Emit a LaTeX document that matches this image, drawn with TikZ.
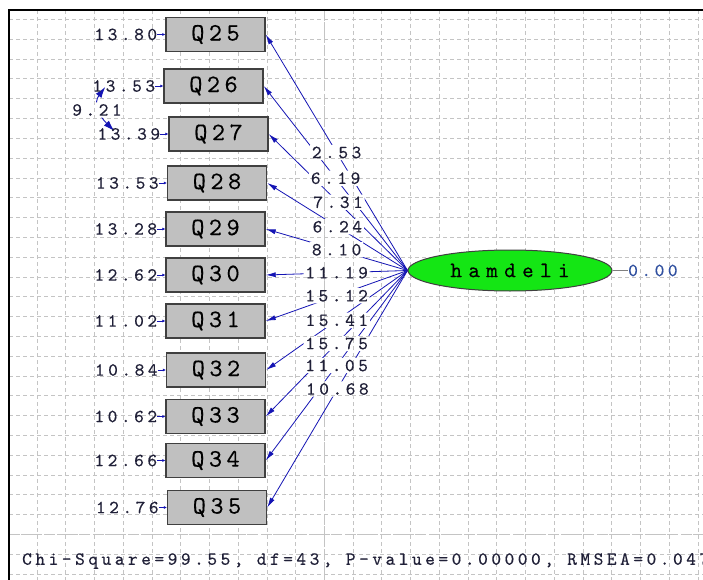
\documentclass[tikz,border=0pt]{standalone}
\usepackage{fontspec}
\usetikzlibrary{arrows.meta,shapes.geometric,calc}
\newfontfamily\numfont[LetterSpace=19,FakeBold=0.4]{lmmono10-regular.otf}
\newfontfamily\boxfont[LetterSpace=18,FakeBold=0.3]{lmmono10-regular.otf}
\newfontfamily\lvfont[LetterSpace=29,FakeBold=0.3]{lmmono10-regular.otf}
\definecolor{pathblue}{HTML}{1414B4}
\definecolor{boxgray}{HTML}{C0C0C0}
\definecolor{edgegray}{HTML}{404040}
\definecolor{gridgray}{HTML}{C4C4C4}
\definecolor{numcol}{HTML}{202038}
\definecolor{zerocol}{HTML}{3050A0}
\definecolor{lvgreen}{HTML}{14E614}
\pgfdeclarelayer{back}
\pgfdeclarelayer{patch}
\pgfsetlayers{back,patch,main}
\newcommand\mygrid{%
  \foreach \k in {0,...,28} \draw[gridline] (9,19.5+19.8*\k) -- (703,19.5+19.8*\k);
  \foreach \k in {0,...,23} \draw[gridline] (37+28.74*\k,10) -- (37+28.74*\k,580);
  \draw[majorgrid] (324.4,10) -- (324.4,580);
  \draw[majorgrid] (9,534.5) -- (703,534.5);}
\begin{document}
\begin{tikzpicture}[x=1pt,y=-1pt,
  obs/.style={draw=edgegray,fill=boxgray,line width=1.4pt,minimum width=99pt,minimum height=34pt,inner sep=0pt,font=\boxfont\fontsize{25}{25}\selectfont},
  lat/.style={ellipse,draw=edgegray,fill=lvgreen,line width=1pt,minimum width=204pt,minimum height=41pt,inner sep=0pt,font=\lvfont\fontsize{22}{22}\selectfont},
  numtext/.style={inner sep=0pt,text=numcol,font=\numfont\fontsize{18.5}{18.5}\selectfont},
  plab/.style={numtext,inner sep=1.5pt},
  loading/.style={draw=pathblue,line width=0.8pt,-{Latex[length=10pt,width=5pt]}},
  errarrow/.style={draw=pathblue,line width=0.8pt,-{Latex[length=3pt,width=3pt]}},
  covarrow/.style={draw=pathblue,line width=0.9pt,{Latex[length=11pt,width=7pt]}-{Latex[length=11pt,width=7pt]}},
  gridline/.style={gridgray,line width=0.8pt,dash pattern=on 4pt off 3pt},
  majorgrid/.style={gridgray,line width=1.2pt,dash pattern=on 9pt off 3pt},
]
\useasboundingbox (0,0) rectangle (703,580);
% observed variables
\node[obs] (q25) at (215.5,34.5) {Q25};
\node[obs] (q26) at (213.5,86) {Q26};
\node[obs] (q27) at (218.5,134) {Q27};
\node[obs] (q28) at (217,183) {Q28};
\node[obs] (q29) at (215.5,229) {Q29};
\node[obs] (q30) at (215.5,275) {Q30};
\node[obs] (q31) at (215.5,321) {Q31};
\node[obs] (q32) at (216,370) {Q32};
\node[obs] (q33) at (215.5,416.5) {Q33};
\node[obs] (q34) at (215.5,460.5) {Q34};
\node[obs] (q35) at (217,507.5) {Q35};
% latent
\node[lat] (lv) at (510,270.5) {hamdeli};
\node[numtext,text=zerocol,anchor=west] (zero) at (628,270.5) {0.00};
\draw[gray,line width=0.8pt] (lv.east) -- (zero.west);
% loading labels
\foreach \q/\v in {25/2.53,26/6.19,27/7.31,28/6.24,29/8.10,30/11.19,31/15.12,32/15.41,33/15.75,34/11.05,35/10.68}
  \node[plab] (l\q) at ($(lv.west)!0.5!(q\q.east)$) {\v};
% error variances
\foreach \q/\v in {25/13.80,26/13.53,27/13.39,28/13.53,29/13.28,30/12.62,31/11.02,32/10.84,33/10.62,34/12.66,35/12.76}{
  \node[numtext,anchor=east] (e\q) at ($(q\q.west)+(-8,0)$) {\v};
  \draw[errarrow] (e\q.east) -- (q\q.west);
}
% error covariance
\node[plab] (cov) at (97,110) {9.21};
\coordinate (c26) at ($(e26.west)+(13,1)$);
\coordinate (c27) at ($(e27.west)+(17,-3)$);
\begin{pgfonlayer}{back}
  \fill[white] (0,0) rectangle (703,580);
  \begin{scope}
    \clip (9,10) rectangle (703,580);
    \mygrid
  \end{scope}
  \draw[line width=2pt] (9,580) -- (9,10) -- (703,10);
  \foreach \q in {25,...,35} \draw[loading] (lv.west) -- (q\q.east);
  \draw[covarrow] (c26) .. controls ($(c26)+(-12,16)$) and ($(c27)+(-16,-16)$) .. (c27);
\end{pgfonlayer}
\begin{pgfonlayer}{patch}
  \fill[white] (cov.south west) rectangle (cov.north east)
    \foreach \q in {25,...,35} {(l\q.south west) rectangle (l\q.north east)};
  \begin{scope}
    \clip (cov.south west) rectangle (cov.north east)
      \foreach \q in {25,...,35} {(l\q.south west) rectangle (l\q.north east)};
    \mygrid
  \end{scope}
\end{pgfonlayer}
% fit statistics
\node[numtext,anchor=west] (fit) at (22,561) {Chi-Square=99.55, df=43, P-value=0.00000, RMSEA=0.047};
\end{tikzpicture}
\end{document}
